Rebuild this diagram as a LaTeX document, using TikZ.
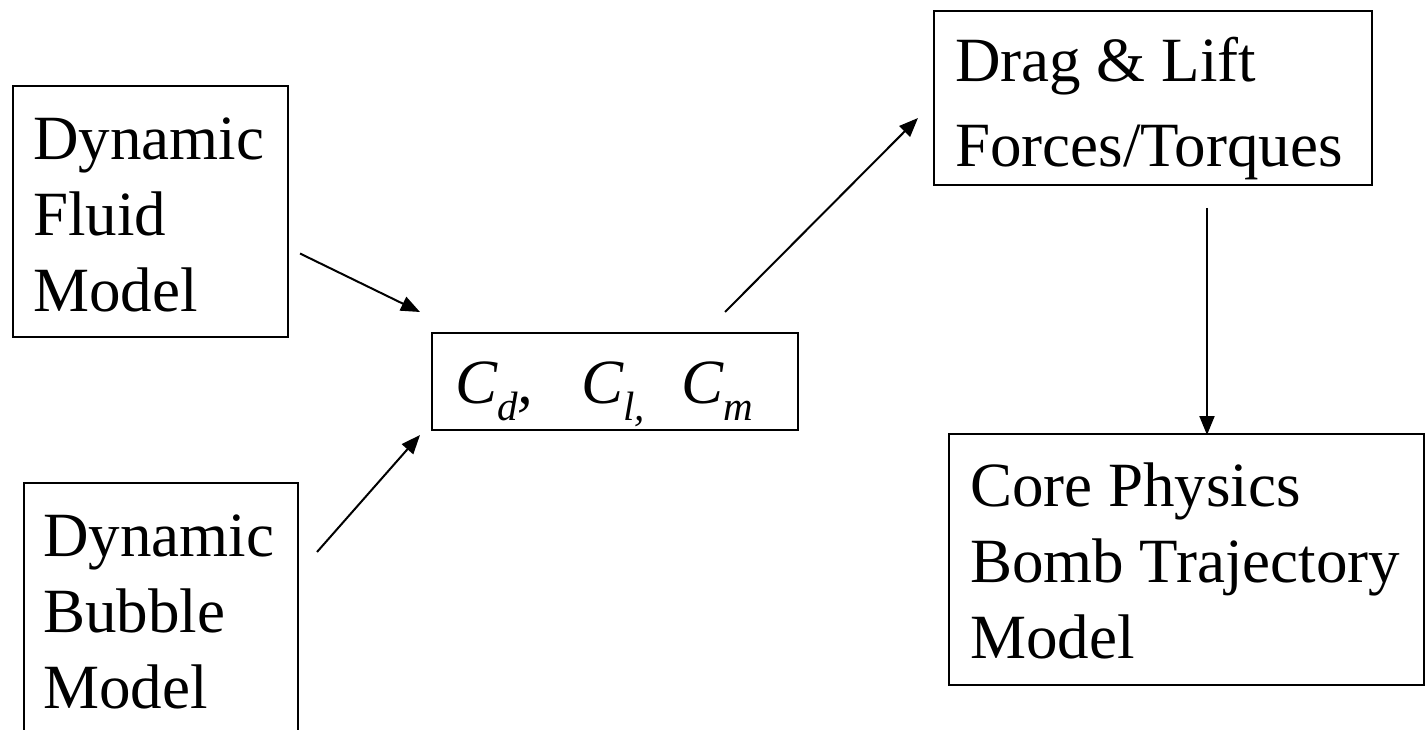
\documentclass[tikz,border=0pt]{standalone}
\usepackage{fontspec}
\setmainfont{Liberation Serif}
\usetikzlibrary{arrows.meta}

\newcommand{\coeffsub}[1]{\raisebox{-17pt}{\fontsize{41}{45}\selectfont #1}}

\begin{document}
\begin{tikzpicture}
[x=1pt,y=-1pt,
  flowArrow/.style={-{Triangle[length=19pt,width=15pt]},line width=2pt},%
  boxDecorate/.style={shape=rectangle,draw,line width=2pt,inner sep=0pt,anchor=north west},%
  boxText/.style={anchor=base west,align=left,inner sep=0pt,font=\fontsize{63}{76}\selectfont}]
\useasboundingbox (0,0) rectangle (1425,730);
%% boxes
\foreach \nodename/\x/\y/\w/\h in {fluid/12/85/275/251, bubble/23/482/274/280,
  coeff/431/332/366/97, drag/933/10/438/174, core/948/433/475/251}
{
  \node (\nodename) at (\x,\y) [boxDecorate,minimum width=\w,minimum height=\h] {};
}
%% texts in the boxes (anchored at the baseline of the last line)
\node (fluidtext) at ([shift={(21,226)}]fluid.north west) [boxText] {Dynamic\\Fluid\\Model};
\node (bubbletext) at ([shift={(20,226)}]bubble.north west) [boxText] {Dynamic\\Bubble\\Model};
\node (dragtext) at ([shift={(22,157)}]drag.north west) [boxText,font=\fontsize{63}{85}\selectfont] {Drag \& Lift\\Forces/Torques};
\node (coretext) at ([shift={(22,225)}]core.north west) [boxText] {Core Physics\\Bomb Trajectory\\Model};
\node (coefftext) at ([shift={(24,71)}]coeff.north west) [boxText,font=\fontsize{63}{76}\selectfont\itshape]
  {C\coeffsub{d},\hspace{48pt}C\coeffsub{l,}\hspace{36pt}C\coeffsub{m}};
%% arrows
\draw[flowArrow] ([shift={(11,42)}]fluid.east) -- ([shift={(-11,-20)}]coeff.north west);
\draw[flowArrow] ([shift={(18,70)}]bubble.north east) -- ([shift={(-11,4)}]coeff.south west);
\draw[flowArrow] ([shift={(-74,-20)}]coeff.north east) -- ([shift={(-15,20)}]drag.west);
\draw[flowArrow] ([shift={(54,22)}]drag.south) -- ([shift={(54,249)}]drag.south);
\end{tikzpicture}
\end{document}
